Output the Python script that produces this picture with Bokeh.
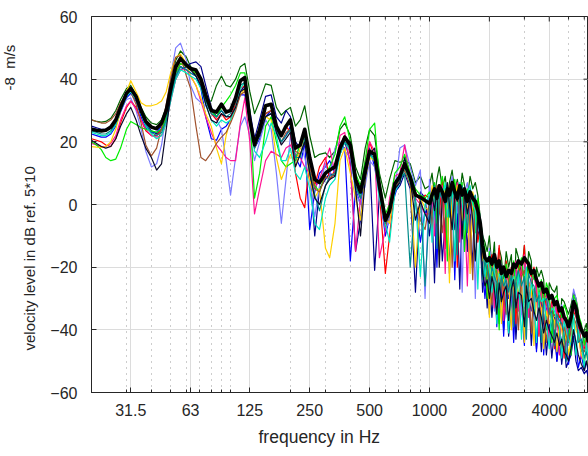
from bokeh.plotting import figure
from bokeh.models import FixedTicker, CustomJSTickFormatter, Range1d, Title
from bokeh.embed import file_html
from bokeh.resources import INLINE

# ---------------- data ----------------
frequency_hz = [
    20, 21.2, 22.4, 23.6, 25, 26.5, 28, 30, 31.5, 33.5, 35.5, 37.5, 40, 42.5, 45, 47.5,
    50, 53, 56, 60, 63, 67, 71, 75, 80, 85, 90, 95, 100, 106, 112, 118, 125, 132, 140,
    150, 160, 170, 180, 190,
    200, 212, 224, 236, 250, 265, 280, 300, 315, 335, 355, 375, 400, 425, 450, 475, 500,
    530, 560, 600, 630, 670, 710, 750, 800, 850, 900, 950,
    1000, 1030, 1060, 1090, 1120, 1160, 1200, 1230, 1260, 1300, 1340, 1380, 1420, 1460,
    1500, 1550, 1600, 1650, 1700, 1750, 1800, 1850, 1900, 1950, 2000, 2060, 2120, 2180,
    2240, 2300, 2360, 2430, 2500, 2580, 2650, 2720, 2800, 2900, 3000, 3070, 3150, 3250,
    3350, 3450, 3550, 3650, 3750, 3870, 4000, 4120, 4250, 4370, 4500, 4620, 4750, 4870,
    5000, 5150, 5300, 5450, 5600, 5800, 6000, 6150, 6300]

level_darkgreen = [
    27, 26.5, 26.3, 26.5, 27.5, 30, 33.5, 37, 38, 35, 31, 28, 26, 25.5, 27, 31, 38, 46, 49, 47,
    44, 41, 38, 33, 33, 38, 41, 38, 37.5, 40, 44, 45, 36, 29, 33, 38.5, 38, 31, 28.5, 30,
    31, 25, 27, 31.5, 22, 15, 16, 16.5, 15, 17, 24, 26, 22, 12, 8, 18, 24, 22, 10, 2,
    8, 14, 13.5, 14, 13, 7, 9, 5,
    6, 10, 3, 8, 12, 5, 9, 2, 7, 11, 4, 8, 3, 10, 6, 2, 9, 5, 7, 3,
    -4, -10, -12, -15, -10, -20, -12, -30, -14, -17, -25, -15, -20, -16, -35, -14, -17, -22, -13, -26,
    -15, -18, -38, -20, -23, -21, -24, -40, -25, -27, -28, -26, -44, -30, -31, -33, -35, -32, -28, -30,
    -34, -47, -40, -38, -45]
level_navy = [
    25, 24.5, 24, 24, 25, 27.5, 31.5, 36, 37.5, 35, 30.5, 26, 23.5, 22.5, 24, 28, 34, 40, 43, 44,
    45, 45.5, 44, 38, 31, 28, 30, 28, 28, 31, 36, 38, 30, 21, 27, 34.5, 35, 28, 26, 30,
    28, 20, 18, 22, 12, -10, 5, 8, 10, 9, 16, 20, 14, -15, -5, 12, 15, -21, 3, -8,
    0, 4, 6, 10, 5, -28, 4, 2,
    -10, -2, -25, 0, 3, -18, -5, 2, -22, 1, -8, -3, -27, 0, 2, -15, 1, -20, -3, -8,
    -12, -28, -20, -33, -22, -36, -25, -30, -38, -26, -40, -29, -42, -33, -27, -43, -30, -25, -44, -31,
    -28, -45, -33, -46, -34, -47, -35, -48, -38, -49, -40, -50, -42, -51, -44, -52, -50, -48, -42, -50,
    -53, -52, -54, -53, -55]
level_blue = [
    22.5, 22, 21.5, 21.5, 22.5, 25, 29.5, 34, 35.5, 33, 28, 24.5, 23, 23, 25, 29, 35, 41, 44, 43,
    42, 41, 37, 28, 21, 20.5, 24, 25, 27, 31, 35, 35, 26, 18, 21, 28, 30, 23, 20, 22,
    25, 15, 12, 20, -8, 4, 10, 12, 14, 10, 19, 18, -18, 5, 0, 9, 18, 12, 5, -10,
    -4, 3, 8, 12, 6, 1, -12, -2,
    -5, 4, 0, -20, 5, 1, -12, 6, -1, 4, -24, 0, 5, -10, 3, -2, -18, 0, 2, -5,
    -9, -20, -30, -21, -35, -24, -20, -39, -23, -27, -42, -25, -30, -26, -44, -28, -23, -32, -45, -25,
    -30, -34, -28, -47, -35, -30, -48, -33, -42, -38, -36, -50, -40, -44, -47, -42, -51, -45, -40, -44,
    -52, -48, -53, -50, -54]
level_periwinkle = [
    24.5, 24, 23.8, 24, 25, 27, 30.5, 33.5, 34, 30, 24, 17, 12, 13, 19, 29, 41, 50, 51.5, 46,
    38, 34, 32.5, 31.5, 30, 27, 24, 14, 3, 15, 25, 28, 22, 14, 20, 27, 24, 10, -6, 8,
    22, 14, 20, 15, 8, -4, 6, 13, 9, 18, 20, 17, 15, 4, 0, 6, 14, 12, 2, -8,
    -5, 5, 18, 19, 12, 6, 11, -30,
    8, -3, 6, 2, -15, 7, 3, -9, 4, 9, -2, 5, 0, -28, 4, 7, -3, 2, -30, 0,
    -4, -12, -15, -22, -14, -18, -34, -17, -21, -19, -30, -22, -24, -37, -20, -23, -21, -35, -19, -22,
    -24, -28, -40, -23, -27, -30, -29, -35, -31, -34, -30, -39, -36, -32, -38, -40, -45, -36, -27, -30,
    -38, -44, -41, -46, -48]
level_red = [
    21, 20.5, 20, 19, 18.5, 21, 26, 31, 33, 31, 27, 23.5, 22, 22, 24, 28, 35, 42, 45, 44,
    43, 42, 39, 34, 29, 27, 29, 27, 28, 32, 37, 38, 28, 20, 24, 29, 30, 24, 22, 25,
    23, 10, 2, -1, 14, 6, 12, 15, 8, 11, 19, 22, 16, 9, 3, 10, 20, 15, 4, -22,
    -10, 5, 8, 12, 9, 4, 1, 3,
    2, -8, 4, 1, -3, 8, -14, 3, 5, 0, 6, -20, 3, 1, -6, 4, 2, -2, 0, -12,
    -7, -14, -18, -25, -19, -16, -28, -21, -13, -24, -33, -18, -26, -20, -22, -38, -19, -24, -13, -30,
    -21, -23, -20, -26, -42, -27, -29, -32, -35, -31, -46, -33, -36, -35, -49, -38, -42, -38, -34, -36,
    -39, -44, -46, -43, -50]
level_deeppink = [
    19.5, 19, 18.5, 18.5, 19.5, 22, 27, 31.5, 33, 30.5, 27, 24, 22, 21.5, 22, 26, 33, 40, 43, 43,
    41, 38, 33, 28, 23, 19, 17, 15, 14, 14, 26, 34, 20, -3, 5, 14, 17, 16, 15, 18,
    19, 16, 15, 12, 10, 5, 8, 14, 18, 10, 22, 23, 12, -15, 2, 14, 20, 17, -17, -8,
    2, 9, 10, 19, 8, 2, 0, -3,
    -3, 5, -10, 4, 1, 6, -22, 2, 4, -5, 3, 7, -12, 2, 0, -26, 3, 1, -4, -1,
    -8, -16, -20, -28, -18, -21, -33, -19, -24, -21, -37, -23, -22, -29, -21, -18, -34, -20, -16, -22,
    -36, -24, -23, -27, -41, -26, -30, -29, -45, -32, -30, -35, -48, -34, -38, -36, -44, -40, -33, -35,
    -40, -49, -44, -42, -47]
level_lime = [
    20, 19, 17.5, 15, 14, 14.5, 18, 24, 26.5, 25.5, 24.5, 24, 23.5, 23, 24, 28, 35, 42, 45, 44,
    43, 42, 40, 35, 30, 28, 31, 33, 35, 38, 42, 42, 30, 2, 10, 25, 28, 20, 14, 12,
    13, 14, 20, 22, 10, 6, 4, 10, 12, 16, 25, 28, 20, 10, 6, 14, 24, 26, 8, -3,
    0, 10, 12, 16, 10, 5, 3, 2,
    4, 1, 7, -6, 3, 9, 2, -18, 6, 3, 8, 0, 4, 7, -15, 5, 0, 3, -9, 2,
    -5, -11, -14, -30, -15, -24, -18, -22, -40, -20, -25, -19, -23, -27, -18, -29, -21, -17, -25, -40,
    -18, -21, -24, -22, -30, -24, -33, -25, -28, -44, -30, -29, -33, -36, -32, -34, -37, -48, -29, -31,
    -35, -38, -45, -40, -43]
level_gold = [
    18.5, 18.3, 18.2, 18.5, 20, 24, 30, 36, 39.5, 36, 32.5, 31.5, 31.5, 32, 33, 36, 42, 47, 48, 45,
    41, 38, 34, 29, 25, 18, 13, 22, 27, 31, 35, 37, 28, 18, 22, 28, 27, 15, 8, 12,
    16, 12, 18, 21, 8, 2, 5, -14, -17, -6, 14, 18, 10, 2, -5, 8, 15, 14, 5, -4,
    -6, 7, 9, 11, 7, -20, 2, -1,
    -2, 6, 1, 3, -16, 2, 5, 0, -25, 4, 2, 6, 1, -5, 3, 2, -22, 4, 0, -4,
    -7, -18, -16, -20, -36, -22, -19, -25, -21, -38, -24, -27, -25, -40, -23, -26, -28, -24, -44, -21,
    -25, -27, -45, -29, -31, -33, -46, -34, -38, -35, -37, -47, -38, -40, -45, -41, -48, -43, -36, -40,
    -42, -48, -50, -47, -52]
level_sienna = [
    27, 26.5, 26, 26, 27, 29, 32.5, 35, 36, 32, 26, 19, 15.5, 18, 24.5, 32, 40, 47, 47.5, 41,
    37, 25, 15, 14, 16.5, 19.5, 21.5, 23, 26, 30, 35, 36, 27, 20, 23, 29, 30, 24, 20, 23,
    24, 17, 16, 20, 12, 5, 4, 9, 8, 10, 19, 21, 19, 6, 2, 10, 16, 14, 4, -7,
    -3, 5, 8, 11, 6, 1, -5, -8,
    1, -4, 2, 6, 0, -9, 4, 1, 6, -20, 2, 4, -3, 5, 1, 3, -7, -24, 1, -3,
    -6, -15, -22, -19, -25, -32, -20, -23, -27, -20, -29, -35, -24, -21, -26, -25, -40, -23, -21, -27,
    -25, -41, -27, -29, -32, -30, -35, -44, -33, -36, -35, -38, -40, -46, -39, -42, -44, -40, -36, -38,
    -41, -46, -47, -45, -49]
level_turquoise = [
    23, 22.5, 22, 22, 23, 25.5, 30, 34.5, 36, 33.5, 29, 25, 22.5, 21, 22, 26, 33, 40, 43, 42,
    41, 40, 37, 32, 27, 25, 27, 26, 27, 31, 37, 39, 28, 17, 15, 20, 26, 22, 14, 14,
    18, 10, 8, 12, 5, -6, -8, 2, 6, 8, 16, 20, 17, 5, 3, 9, 16, 14, 2, -6,
    -12, 4, 7, 12, 7, 2, -23, 0,
    3, -12, 5, -1, 4, 2, 7, -4, 1, 5, -18, 3, 7, 1, -8, 4, 6, 0, -2, -27,
    -5, -10, -23, -17, -21, -28, -19, -38, -22, -24, -20, -30, -41, -25, -23, -30, -22, -43, -26, -20,
    -33, -25, -29, -44, -28, -31, -30, -38, -46, -33, -34, -37, -39, -49, -37, -40, -43, -45, -35, -48,
    -40, -45, -52, -44, -50]
level_teal = [
    23.5, 23, 22.5, 22.5, 23.5, 26, 30, 35, 36.5, 34, 29.5, 25.5, 23, 22, 23, 27, 34, 41, 44, 43,
    42, 41, 38, 33, 29, 28, 30, 28, 29, 33, 38, 39, 27, 18, 22, 28, 29, 24, 20, 22,
    24, 15, 15, 21, 10, 3, -2, 6, 9, 10, 17, 20, 18, 6, 2, 10, 16, 15, 4, -6,
    -3, 6, 8, 10, -20, 3, 2, -26,
    -1, 2, 6, -14, 2, 5, 0, 3, -4, 6, 1, -16, 4, 6, 2, -9, 5, 1, 3, -6,
    -10, -24, -18, -21, -27, -20, -23, -25, -33, -23, -26, -24, -28, -22, -39, -24, -21, -26, -23, -43,
    -22, -25, -26, -31, -29, -44, -31, -30, -35, -34, -45, -35, -37, -38, -41, -50, -40, -39, -30, -34,
    -44, -43, -49, -47, -51]
level_midnight = [
    20.5, 19.5, 18.5, 18, 18.5, 21, 25, 29, 31, 27, 22, 18, 15, 11, 13, 24, 35, 43, 46, 45,
    43, 41, 38, 32, 27, 26, 29, 28, 28, 31, 36, 37, 27, 19, 22, 28, 29, 23, 19, 21,
    23, 12, 16, 20, 10, 2, 0, 6, 8, 9, 17, 21, 20, 5, -10, 8, 16, 18, 5, -5,
    -2, 5, 7, 15, 8, -5, 1, -3,
    -6, 3, -2, 5, -20, 3, 1, 7, 0, -8, 3, 1, 5, -11, 4, -3, 2, -5, -18, -4,
    -10, -22, -26, -24, -30, -23, -27, -35, -25, -31, -28, -26, -37, -27, -24, -33, -28, -29, -39, -26,
    -31, -30, -34, -37, -33, -36, -41, -37, -40, -42, -44, -41, -45, -43, -47, -48, -50, -46, -40, -44,
    -48, -51, -53, -50, -53]
level_mean = [
    24, 23.7, 23.5, 23.7, 24.7, 27, 31, 35.5, 37, 34.5, 30, 26.5, 24.7, 24.2, 26, 30, 37, 44, 46.6, 44.5,
    43.4, 42.9, 40, 35, 30, 29.5, 32, 29.5, 30, 34, 39.5, 40.5, 27, 19, 24, 31.5, 32, 25, 22, 25,
    27, 18, 19, 24, 15, 8, 7, 10, 11, 12, 18, 21.5, 19, 8, 4, 11, 17, 16, 6, -5,
    -2, 6.6, 9, 13, 8.7, 3, 2.3, 1.3,
    0.3, 3, 5, 2, 6, 4, 1, 5, 3, 7, 4, 2, 6, 3, 5, 1, 4, 2, 1, -2,
    -6, -13, -17, -18, -17, -19, -16, -20, -18, -22, -20, -23, -21, -22, -19, -20, -18, -19, -17, -18,
    -19, -22, -21, -24, -26, -25, -28, -27, -30, -29, -32, -31, -34, -33, -36, -37, -39, -36, -31, -33,
    -37, -40, -42, -41, -44]

series_levels = [level_darkgreen, level_navy, level_blue, level_periwinkle, level_red,
                 level_deeppink, level_lime, level_gold, level_sienna, level_turquoise,
                 level_teal, level_midnight]
series_colors = ["#006400", "#00008b", "#0000ff", "#7b7bff", "#ff0000", "#ff1493",
                 "#00ee00", "#ffd000", "#a0522d", "#00e8c0", "#008b8b", "#0a0a2a"]

x_major_ticks = [31.5, 63, 125, 250, 500, 1000, 2000, 4000]
x_minor_ticks = [20, 30, 40, 50, 60, 70, 80, 90, 100, 200, 300, 400, 600, 700, 800, 900,
                 3000, 5000, 6000]
y_ticks = [-60, -40, -20, 0, 20, 40, 60]
x_limits = (20, 6300)
y_limits = (-60, 60)

x_title = "frequency in Hz"
# the original draws the exponent raised and detached from "5*10"
y_title_main = "velocity level in dB ref. 5*10"
y_title_unit = "-8\u00a0 m/s"

lens = [len(frequency_hz), len(level_mean)] + [len(s) for s in series_levels]
assert len(set(lens)) == 1, str(lens)

# ---------------- figure ----------------
FONT = "Liberation Sans"
TXT = "#262626"

p = figure(width=588, height=456, x_axis_type="log",
           x_range=Range1d(*x_limits), y_range=Range1d(*y_limits),
           output_backend="svg", toolbar_location=None,
           min_border_left=91, min_border_right=0, min_border_top=16, min_border_bottom=64,
           background_fill_color="white", border_fill_color="white")
p.outline_line_color = TXT
p.outline_line_width = 1

xticker = FixedTicker(ticks=x_major_ticks, minor_ticks=x_minor_ticks)
yticker = FixedTicker(ticks=y_ticks, minor_ticks=[])

for ax in (p.xaxis[0], p.yaxis[0]):
    ax.axis_line_color = TXT
    ax.major_tick_line_color = TXT
    ax.minor_tick_line_color = TXT
    ax.major_tick_in = 5
    ax.major_tick_out = 0
    ax.minor_tick_in = 3
    ax.minor_tick_out = 0
    ax.major_label_text_font = FONT
    ax.major_label_text_color = TXT
    ax.major_label_text_font_size = "16px"

xa = p.xaxis[0]
xa.ticker = xticker
xa.formatter = CustomJSTickFormatter(code="return tick.toString();")
xa.major_label_standoff = 11

ya = p.yaxis[0]
ya.ticker = yticker
ya.minor_tick_line_color = None
ya.major_label_standoff = 14

p.xgrid.ticker = xticker
p.xgrid.grid_line_color = "#dcdcdc"
p.xgrid.minor_grid_line_color = "#9a9a9a"
p.xgrid.minor_grid_line_dash = "1 5"
p.ygrid.ticker = yticker
p.ygrid.grid_line_color = "#dcdcdc"

# inward ticks on the top and right edges of the box
p.ray(x=x_major_ticks, y=[y_limits[1]] * len(x_major_ticks), length=5, length_units="screen",
      angle=-90, angle_units="deg", line_color=TXT, line_width=1)
p.ray(x=x_minor_ticks, y=[y_limits[1]] * len(x_minor_ticks), length=3, length_units="screen",
      angle=-90, angle_units="deg", line_color=TXT, line_width=1)
p.ray(x=[x_limits[1]] * len(y_ticks), y=y_ticks, length=5, length_units="screen",
      angle=180, angle_units="deg", line_color=TXT, line_width=1)

for lv, col in zip(series_levels, series_colors):
    p.line(frequency_hz, lv, line_color=col, line_width=1.2, line_join="round")
p.line(frequency_hz, level_mean, line_color="black", line_width=3.6, line_join="round")

p.add_layout(Title(text=x_title, align="left", offset=167, standoff=12,
                   text_font=FONT, text_font_size="17.5px", text_font_style="normal",
                   text_color=TXT), "below")
p.add_layout(Title(text=y_title_main, align="left", offset=42, standoff=20,
                   text_font=FONT, text_font_size="15px", text_font_style="normal",
                   text_color=TXT), "left")
p.add_layout(Title(text=y_title_unit, align="left", offset=302, standoff=-18,
                   text_font=FONT, text_font_size="15px", text_font_style="normal",
                   text_color=TXT), "left")

open("out.html", "w").write(file_html(p, INLINE))
